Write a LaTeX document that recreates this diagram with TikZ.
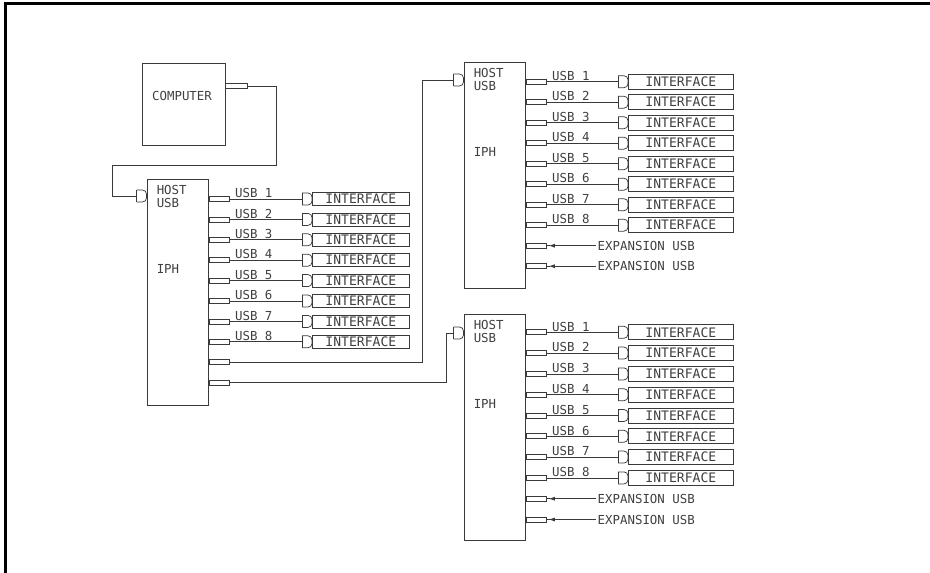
\documentclass[tikz,border=0pt]{standalone}
\usepackage{fontspec}
\setmonofont{DejaVu Sans Mono}
\usetikzlibrary{arrows.meta}
\definecolor{linec}{HTML}{3A3A3A}
\definecolor{txtc}{HTML}{404040}
\tikzset{
  ln/.style={draw=linec, line width=0.55pt},
  blk/.style={ln, rectangle, inner sep=0pt, anchor=north west, minimum width=46.1pt, minimum height=169.5pt},
  port/.style={ln, rectangle, inner sep=0pt, anchor=west, minimum width=15.4pt, minimum height=3.75pt},
  txt/.style={inner sep=0pt, text=txtc, font=\ttfamily\fontsize{9.3}{10}\selectfont},
  ifbox/.style={ln, rectangle, inner sep=0pt, anchor=west, text=txtc, font=\ttfamily\fontsize{9.8}{10}\selectfont},
  lab/.style={txt, anchor=base west, xshift=3.75pt, yshift=0.9pt},
  arr/.style={ln, -{Latex[length=4.5pt,width=3pt]}, shorten <=1.2pt, shorten >=1.5pt},
  outerframe/.style={line width=2.25pt, draw=black, line join=miter},
  plug/.pic={\draw[ln] (0,-6) -- (0,6); \draw[ln, rounded corners=3pt] (0,-6) -- (10,-6) -- (10,6) -- (0,6);}
}
\newcommand\iphblock[8]{%
  \node[blk] (#1) at (#2,#3) {};
  \node[txt, anchor=west] (#1host) at (#2+9.5,#3+11) {HOST};
  \node[txt, anchor=west] (#1usb) at (#2+9.5,#3+24) {USB};
  \node[txt, anchor=west] (#1name) at (#2+9.5,#3+90) {IPH};
  \foreach \i in {1,...,10}{%
    \pgfmathsetmacro\yy{#4+(\i-1)*#5}%
    \node[port] (#1p\i) at (#2+61.5,\yy) {};
  }%
  \foreach \i in {1,...,8}{%
    \pgfmathsetmacro\yy{#4+(\i-1)*#5}%
    \coordinate (#1c\i) at (#6,\yy);
    \pic at (#1c\i) {plug};
    \node[ifbox, minimum width=#7*0.75pt, minimum height=#8*0.75pt] (#1f\i) at (#6+10,\yy) {INTERFACE};
    \draw[ln] (#1p\i.east) -- (#1c\i) node[lab, pos=0] (#1u\i) {USB \i};
  }%
}
\begin{document}
\begin{tikzpicture}[x=0.75pt, y=-0.75pt]
\useasboundingbox (0,0) rectangle (930,573);
\draw[outerframe] (930,3.5) -- (5.5,3.5) -- (5.5,573);

% computer
\node[blk, minimum width=62.25pt, minimum height=61.5pt] (comp) at (142,63) {};
\node[txt] (comptxt) at (182,96) {COMPUTER};
\node[port, minimum width=16.5pt] (cport) at (225,86) {};

% IPH blocks
\iphblock{A}{147}{179}{199}{20.4}{302}{97}{13}
\iphblock{B}{464}{62}{81.7}{20.5}{618}{105}{15}
\iphblock{C}{464}{314}{332.3}{20.8}{618}{105}{15}

% host plugs
\coordinate (Ah) at (136.5,196);
\pic at (Ah) {plug};
\coordinate (Bh) at (453.5,80);
\pic at (Bh) {plug};
\coordinate (Ch) at (453.5,333);
\pic at (Ch) {plug};

% connections
\coordinate (k1) at (276,165);
\coordinate (k2) at (112,165);
\draw[ln] (cport.east) -| (k1) -- (k2) |- (Ah);
\coordinate (kB) at (422,80);
\draw[ln] (Ap9.east) -| (kB) -- (Bh);
\coordinate (kC) at (446,333);
\draw[ln] (Ap10.east) -| (kC) -- (Ch);

% expansion ports
\foreach \bk in {B,C}{%
  \foreach \i in {9,10}{%
    \node[txt, anchor=west] (\bk e\i) at ([xshift=38pt]\bk p\i.east) {EXPANSION USB};
    \draw[arr] (\bk e\i.west) -- (\bk p\i.east);
    \draw[ln] (\bk p\i.east) -- ++(3,0);
  }%
}
\end{tikzpicture}
\end{document}
